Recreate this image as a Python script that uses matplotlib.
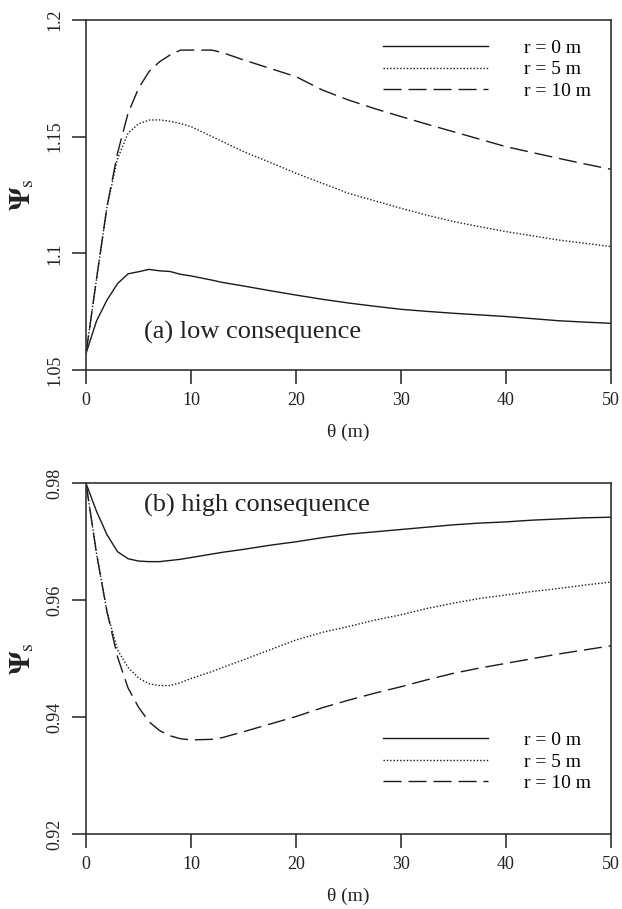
import numpy as np
import matplotlib
matplotlib.use("Agg")
import matplotlib.pyplot as plt

# ================= fonts =================
plt.rcParams['font.family'] = ['Liberation Serif', 'DejaVu Serif']
plt.rcParams['mathtext.fontset'] = 'stix'

# ================= data =================
theta = [0, 1, 2, 3, 4, 5, 6, 7, 8, 9, 10, 12, 13, 15, 17.5, 20, 22.5, 25,
         27.5, 30, 32.5, 35, 37.5, 40, 42.5, 45, 47.5, 50]

# (a) low consequence
low_r0 = [1.0571, 1.0710, 1.0800, 1.0870, 1.0912, 1.0921, 1.0931, 1.0925,
          1.0922, 1.0910, 1.0903, 1.0885, 1.0875, 1.0860, 1.0840, 1.0821,
          1.0803, 1.0787, 1.0773, 1.0760, 1.0751, 1.0743, 1.0736, 1.0729,
          1.0720, 1.0711, 1.0705, 1.0700]
low_r5 = [1.0571, 1.0890, 1.1200, 1.1405, 1.1515, 1.1555, 1.1571, 1.1572,
          1.1566, 1.1556, 1.1543, 1.1500, 1.1479, 1.1436, 1.1390, 1.1343,
          1.1300, 1.1257, 1.1225, 1.1193, 1.1163, 1.1136, 1.1114, 1.1093,
          1.1075, 1.1057, 1.1043, 1.1029]
low_r10 = [1.0571, 1.0890, 1.1200, 1.1429, 1.1600, 1.1707, 1.1779, 1.1821,
           1.1850, 1.1871, 1.1871, 1.1871, 1.1860, 1.1829, 1.1793, 1.1757,
           1.1700, 1.1657, 1.1620, 1.1586, 1.1553, 1.1521, 1.1489, 1.1457,
           1.1432, 1.1407, 1.1383, 1.1360]

# (b) high consequence
high_r0 = [0.9800, 0.9752, 0.9712, 0.9683, 0.9671, 0.9667, 0.9666, 0.9666,
           0.9668, 0.9670, 0.9673, 0.9679, 0.9682, 0.9687, 0.9694, 0.9700,
           0.9707, 0.9713, 0.9717, 0.9721, 0.9725, 0.9729, 0.9732, 0.9734,
           0.9737, 0.9739, 0.9741, 0.9742]
high_r5 = [0.9800, 0.9680, 0.9580, 0.9515, 0.9485, 0.9467, 0.9457, 0.9454,
           0.9454, 0.9459, 0.9466, 0.9478, 0.9485, 0.9498, 0.9515, 0.9532,
           0.9545, 0.9555, 0.9566, 0.9575, 0.9586, 0.9595, 0.9603, 0.9609,
           0.9615, 0.9620, 0.9626, 0.9631]
high_r10 = [0.9800, 0.9680, 0.9580, 0.9503, 0.9450, 0.9417, 0.9392, 0.9377,
            0.9368, 0.9363, 0.9361, 0.9362, 0.9365, 0.9375, 0.9388, 0.9401,
            0.9416, 0.9429, 0.9441, 0.9452, 0.9464, 0.9475, 0.9484, 0.9492,
            0.9500, 0.9508, 0.9515, 0.9522]

series_labels = ["r = 0 m", "r = 5 m", "r = 10 m"]
x_ticks = [0, 10, 20, 30, 40, 50]
low_yticks = [1.05, 1.1, 1.15, 1.2]
low_yticklabels = ["1.05", "1.1", "1.15", "1.2"]
high_yticks = [0.92, 0.94, 0.96, 0.98]
high_yticklabels = ["0.92", "0.94", "0.96", "0.98"]

# ================= styles =================
line_color = '#1a1a1a'
styles = [
    dict(linestyle='-'),
    dict(linestyle=(0, (1.0, 1.4))),
    dict(linestyle=(0, (13, 5))),
]

fig = plt.figure(figsize=(6.22, 9.09), dpi=100)
ax_a = fig.add_axes([0.1383, 0.5930, 0.8441, 0.3850])
ax_b = fig.add_axes([0.1383, 0.0825, 0.8441, 0.3858])


def style_axes(ax, yticks, yticklabels, ylim):
    ax.set_xlim(0, 50)
    ax.set_ylim(*ylim)
    ax.set_xticks(x_ticks)
    ax.set_yticks(yticks)
    ax.set_yticklabels(yticklabels, rotation=90, va='center')
    for sp in ax.spines.values():
        sp.set_color('#333333')
        sp.set_linewidth(1.2)
    ax.tick_params(direction='out', length=10, width=1.2, color='#333333',
                   labelsize=13, labelcolor='#222222', pad=6)
    ax.set_xlabel(r"θ (m)", fontsize=14, color='#222222', va='center')
    ax.xaxis.set_label_coords(0.5, -0.177)
    ax.set_ylabel(r"$\mathbf{\Psi}_{\mathrm{s}}$", fontsize=21, color='#222222',
                  va='center')
    ax.yaxis.set_label_coords(-0.122, 0.5)


# ---- (a) ----
for vals, lab, st in zip([low_r0, low_r5, low_r10], series_labels, styles):
    ax_a.plot(theta, vals, color=line_color, linewidth=1.0, label=lab, **st)
style_axes(ax_a, low_yticks, low_yticklabels, (1.05, 1.2))
ax_a.text(0.110, 0.106, "(a) low consequence", transform=ax_a.transAxes,
          fontsize=19, color='#222222', ha='left', va='center')
ax_a.legend(loc='upper left', bbox_to_anchor=(0.566, 0.945), frameon=False,
            fontsize=14, handlelength=5.4, handletextpad=1.85,
            labelspacing=0.2, borderpad=0, borderaxespad=0)

# ---- (b) ----
for vals, lab, st in zip([high_r0, high_r5, high_r10], series_labels, styles):
    ax_b.plot(theta, vals, color=line_color, linewidth=1.0, label=lab, **st)
style_axes(ax_b, high_yticks, high_yticklabels, (0.92, 0.98))
ax_b.text(0.110, 0.938, "(b) high consequence", transform=ax_b.transAxes,
          fontsize=19, color='#222222', ha='left', va='center')
ax_b.legend(loc='upper left', bbox_to_anchor=(0.566, 0.292), frameon=False,
            fontsize=14, handlelength=5.4, handletextpad=1.85,
            labelspacing=0.2, borderpad=0, borderaxespad=0)

plt.savefig("out.png", dpi=100)
plt.close()
